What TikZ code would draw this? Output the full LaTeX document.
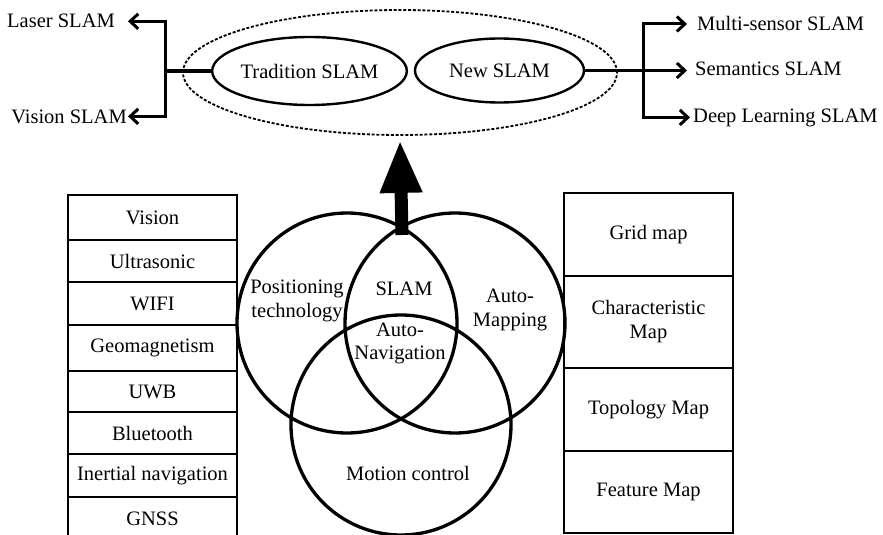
\documentclass[tikz,border=0pt]{standalone}
\usepackage{fontspec}
\setmainfont{Liberation Serif}
\usetikzlibrary{arrows.meta,shapes.geometric}
\begin{document}
\begin{tikzpicture}[x=1pt,y=-1pt,
  every node/.style={font=\fontsize{20.5}{24}\selectfont},
  txt/.style={inner sep=0pt, align=center},
  cell/.style={draw, line width=2.2pt, minimum width=169pt, inner sep=0pt, align=center},
  venn/.style={draw, circle, line width=3.3pt, minimum size=220pt, inner sep=0pt},
  oval/.style={draw, ellipse, line width=2.4pt, inner sep=0pt},
  dashoval/.style={draw, ellipse, line width=1.8pt, dash pattern=on 3pt off 1.8pt, inner sep=0pt},
  conn/.style={line width=3pt},
  sidearrow/.style={conn, -{Straight Barb[length=8pt,width=15pt]}},
  bigarrow/.style={line width=13pt, -{Triangle[length=53pt,width=39pt]}}
]
\useasboundingbox (0,0) rectangle (883,535);
\clip (0,0) rectangle (883,535);

% top ellipses
\node[dashoval, minimum width=434pt, minimum height=125pt] (dash) at (400,72.5) {};
\node[oval, minimum width=183pt, minimum height=68pt] (trad) at (309.5,71) {Tradition SLAM};
\node[oval, minimum width=169pt, minimum height=64pt] (new) at (499.5,70.5) {New SLAM};

% side labels
\node[txt, anchor=base east] (laser) at (115,28) {Laser SLAM};
\node[txt, anchor=base east] (vslam) at (127,123) {Vision SLAM};
\node[txt, anchor=base west] (multi) at (697,31) {Multi-sensor SLAM};
\node[txt, anchor=base west] (sem) at (695,75) {Semantics SLAM};
\node[txt, anchor=base west] (deep) at (693,122) {Deep Learning SLAM};

\coordinate (jl) at (165,71);
\coordinate (jr) at (643,70.5);
\draw[conn] (trad.west) -- (jl);
\draw[sidearrow] (jl) |- ([xshift=13pt]laser.east);
\draw[sidearrow] (jl) |- ([xshift=1pt]vslam.east);
\draw[conn] (new.east) -- (jr);
\draw[sidearrow] (jr) |- ([xshift=-10pt]multi.west);
\draw[sidearrow] (jr) -- ([xshift=-8pt]jr -| sem.west);
\draw[sidearrow] (jr) |- ([xshift=-3pt]deep.west);

% venn circles
\node[venn] (posC) at (347,323) {};
\node[venn] (mapC) at (455,323) {};
\node[venn] (motC) at (401,425) {};

\node[txt] (posT) at (297,300.5) {Positioning\\technology};
\node[txt] (slamT) at (404,289) {SLAM};
\node[txt, text depth=0pt] (navT) at (400,341) {Auto-\\[-1pt]Navigation};
\node[txt] (mapT) at (510,309.5) {Auto-\\Mapping};
\node[txt] (motT) at (408,473) {Motion control};

% big arrow
\coordinate (foot) at (402,235);
\draw[bigarrow] (foot) -- ([yshift=-4pt]dash.south);

% left table
\node[cell, minimum height=45pt] (l1) at (152.5,217.5) {Vision};
\node[cell, minimum height=42pt] (l2) at (152.5,261) {Ultrasonic};
\node[cell, minimum height=43pt] (l3) at (152.5,303.5) {WIFI};
\node[cell, minimum height=46pt] (l4) at (152.5,348) {Geomagnetism};
\node[cell, minimum height=41pt] (l5) at (152.5,391.5) {UWB};
\node[cell, minimum height=42pt] (l6) at (152.5,433) {Bluetooth};
\node[cell, minimum height=43pt] (l7) at (152.5,475.5) {Inertial navigation};
\node[cell, minimum height=43pt] (l8) at (152.5,518.5) {GNSS};

% right table
\node[cell, minimum height=83pt] (r1) at (648.5,234.5) {Grid map};
\node[cell, minimum height=92pt] (r2) at (648.5,322) {Characteristic\\Map};
\node[cell, minimum height=83pt] (r3) at (648.5,409.5) {Topology Map};
\node[cell, minimum height=82pt] (r4) at (648.5,492) {Feature Map};
\end{tikzpicture}
\end{document}
